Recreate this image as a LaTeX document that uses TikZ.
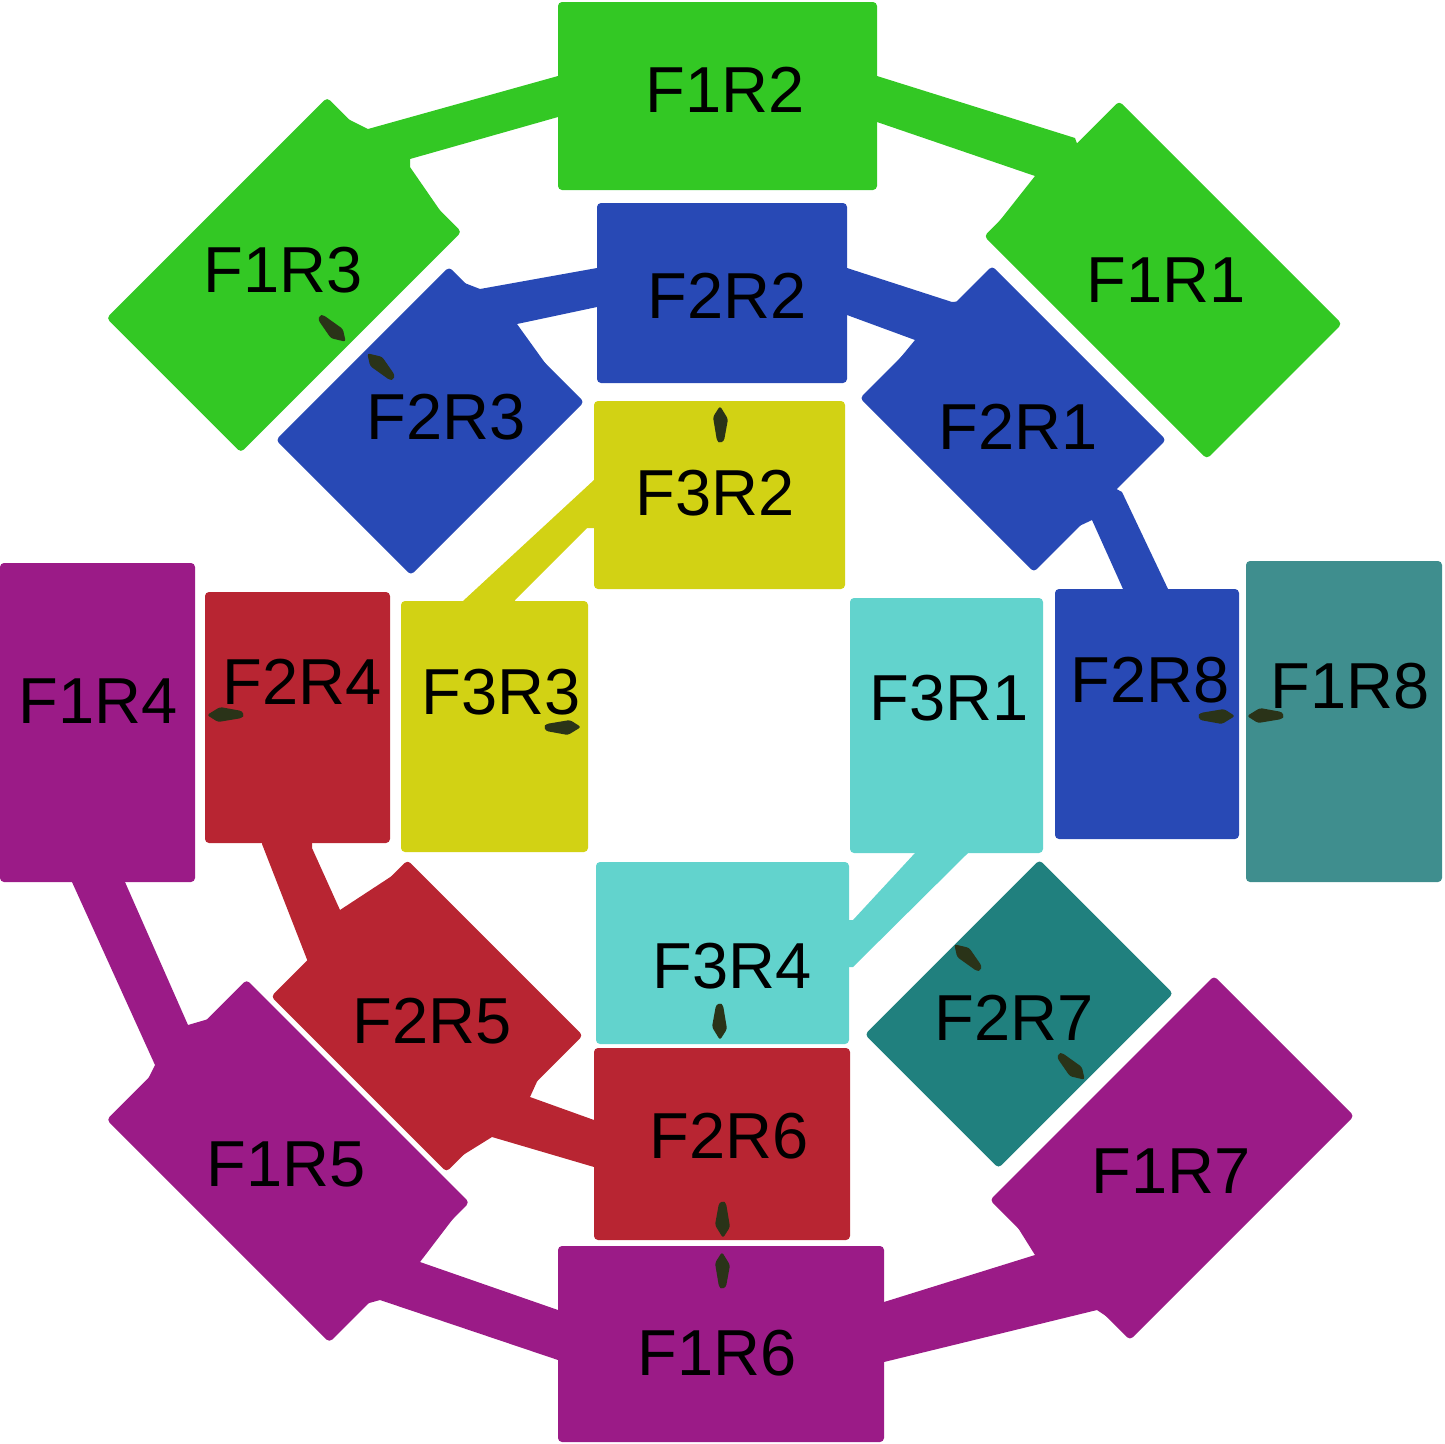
\documentclass[tikz,border=0pt]{standalone}
\usepackage{fontspec}
\setmainfont{Liberation Sans}
\definecolor{cgreen}{RGB}{51,200,36}
\definecolor{cblue}{RGB}{40,73,181}
\definecolor{cyellow}{RGB}{210,210,20}
\definecolor{ccyan}{RGB}{98,211,205}
\definecolor{cred}{RGB}{184,37,50}
\definecolor{cpurple}{RGB}{155,27,135}
\definecolor{cteal}{RGB}{63,142,142}
\definecolor{cdteal}{RGB}{32,128,126}
\definecolor{cmark}{RGB}{42,51,24}
\tikzset{
  shp/.style={rectangle, inner sep=0pt, outer sep=0pt, rounded corners=4pt},
  lbl/.style={inner sep=0pt, anchor=base, font=\fontsize{65}{70}\selectfont},
  mk/.pic={\fill[cmark, rounded corners=2.5pt] (0,-18) -- (8,-5) -- (4,17) -- (0,19) -- (-3,17) -- (-7,-7) -- cycle;}
}
\begin{document}
\begin{tikzpicture}[x=1pt,y=-1pt]
\useasboundingbox (0,0) rectangle (1444,1444);
% bands (connectors)
\fill[cgreen] (600,76) -- (558,76) -- (368,129) -- (346,118) -- (380,180) -- (448,222) -- (410,167) -- (410,159) -- (558,117) -- (600,117) -- cycle;
\fill[cgreen] (840,76) -- (877,76) -- (1075,138) -- (1090,180) -- (990,233) -- (1035,176) -- (877,122) -- (840,122) -- cycle;
\fill[cblue] (630,268) -- (597,268) -- (480,289) -- (462,282) -- (500,340) -- (553,374) -- (517,324) -- (597,307) -- (630,307) -- cycle;
\fill[cblue] (820,268) -- (847,268) -- (952,302) -- (975,300) -- (970,350) -- (887,374) -- (915,340) -- (847,315) -- (820,315) -- cycle;
\fill[cblue] (1100,480) -- (1122,492) -- (1168,589) -- (1168,610) -- (1123,610) -- (1123,589) -- (1092,520) -- (1075,528) -- cycle;
\fill[cyellow] (620,480) -- (594,480) -- (463,601) -- (463,630) -- (515,630) -- (515,600) -- (587,528) -- (620,528) -- cycle;
\fill[ccyan] (915,830) -- (915,853) -- (853,920) -- (830,920) -- (830,967) -- (853,967) -- (968,853) -- (968,830) -- cycle;
\fill[cred] (262,830) -- (262,844) -- (308,962) -- (345,955) -- (398,872) -- (340,910) -- (312,848) -- (312,830) -- cycle;
\fill[cred] (540,1075) -- (530,1097) -- (594,1120) -- (620,1120) -- (620,1167) -- (594,1167) -- (492,1137) -- (455,1160) -- (480,1110) -- cycle;
\fill[cpurple] (72,870) -- (72,882) -- (155,1065) -- (145,1085) -- (190,1070) -- (212,1018) -- (188,1025) -- (125,882) -- (125,870) -- cycle;
\fill[cpurple] (465,1203) -- (420,1262) -- (558,1310) -- (600,1310) -- (600,1360) -- (558,1360) -- (380,1300) -- (362,1305) -- (420,1230) -- cycle;
\fill[cpurple] (850,1302) -- (884,1302) -- (1035,1255) -- (1010,1215) -- (1070,1240) -- (1115,1322) -- (1097,1310) -- (884,1362) -- (850,1362) -- cycle;
% rectangles
\node[shp, fill=cgreen, minimum width=319, minimum height=188] (F1R2) at (717.5,96) {};
\node[shp, fill=cblue, minimum width=250, minimum height=180] (F2R2) at (722,293) {};
\node[shp, fill=cyellow, minimum width=251, minimum height=188] (F3R2) at (719.5,495) {};
\node[shp, fill=cyellow, minimum width=187, minimum height=251] (F3R3) at (494.5,726.5) {};
\node[shp, fill=ccyan, minimum width=193, minimum height=255] (F3R1) at (946.5,725.5) {};
\node[shp, fill=cred, minimum width=185, minimum height=251] (F2R4) at (297.5,717.5) {};
\node[shp, fill=cblue, minimum width=184, minimum height=250] (F2R8) at (1147,714) {};
\node[shp, fill=cpurple, minimum width=195, minimum height=319] (F1R4) at (97.5,722.5) {};
\node[shp, fill=cteal, minimum width=196, minimum height=321] (F1R8) at (1344,721.5) {};
\node[shp, fill=ccyan, minimum width=253, minimum height=182] (F3R4) at (722.5,953) {};
\node[shp, fill=cred, minimum width=256, minimum height=192] (F2R6) at (722,1144) {};
\node[shp, fill=cpurple, minimum width=326, minimum height=196] (F1R6) at (721,1344) {};
% rotated rectangles
\node[shp, fill=cgreen, rotate=45, minimum width=312, minimum height=190] (F1R3) at (284,275) {};
\node[shp, fill=cgreen, rotate=-45, minimum width=315, minimum height=191] (F1R1) at (1163,280) {};
\node[shp, fill=cblue, rotate=45, minimum width=245, minimum height=191] (F2R3) at (430,421) {};
\node[shp, fill=cblue, rotate=-45, minimum width=246, minimum height=187] (F2R1) at (1013,419) {};
\node[shp, fill=cred, rotate=-45, minimum width=248, minimum height=193] (F2R5) at (427,1016) {};
\node[shp, fill=cdteal, rotate=45, minimum width=247, minimum height=189] (F2R7) at (1019,1014) {};
\node[shp, fill=cpurple, rotate=-45, minimum width=315, minimum height=198] (F1R5) at (288,1161) {};
\node[shp, fill=cpurple, rotate=45, minimum width=317, minimum height=198] (F1R7) at (1172,1158) {};
% markers
\pic at (720,424) {mk};
\pic at (722,1270) {mk};
\pic[rotate=180] at (723,1220) {mk};
\pic[rotate=180] at (720,1022) {mk};
\pic[rotate=90] at (225,715) {mk};
\pic[rotate=-90] at (563,727) {mk};
\pic[rotate=-90] at (1217,716) {mk};
\pic[rotate=90] at (1265,716) {mk};
\pic[rotate=-135] at (333,329) {mk};
\pic[rotate=45] at (380,366) {mk};
\pic[rotate=45] at (967,957) {mk};
\pic[rotate=-135] at (1072,1067) {mk};
% labels
\node[lbl] (F1R2-l) at (725,112) {F1R2};
\node[lbl] (F2R2-l) at (727,318) {F2R2};
\node[lbl] (F3R2-l) at (715,515) {F3R2};
\node[lbl] (F3R3-l) at (501,714) {F3R3};
\node[lbl] (F3R1-l) at (949,720) {F3R1};
\node[lbl] (F2R4-l) at (302,704) {F2R4};
\node[lbl] (F2R8-l) at (1150,702) {F2R8};
\node[lbl] (F1R4-l) at (98,723) {F1R4};
\node[lbl] (F1R8-l) at (1350,708) {F1R8};
\node[lbl] (F3R4-l) at (732,988) {F3R4};
\node[lbl] (F2R6-l) at (729,1158) {F2R6};
\node[lbl] (F1R6-l) at (717,1375) {F1R6};
\node[lbl] (F1R3-l) at (283,292) {F1R3};
\node[lbl] (F1R1-l) at (1166,302) {F1R1};
\node[lbl] (F2R3-l) at (446,439) {F2R3};
\node[lbl] (F2R1-l) at (1018,449) {F2R1};
\node[lbl] (F2R5-l) at (432,1043) {F2R5};
\node[lbl] (F2R7-l) at (1014,1040) {F2R7};
\node[lbl] (F1R5-l) at (286,1186) {F1R5};
\node[lbl] (F1R7-l) at (1171,1193) {F1R7};
\end{tikzpicture}
\end{document}
